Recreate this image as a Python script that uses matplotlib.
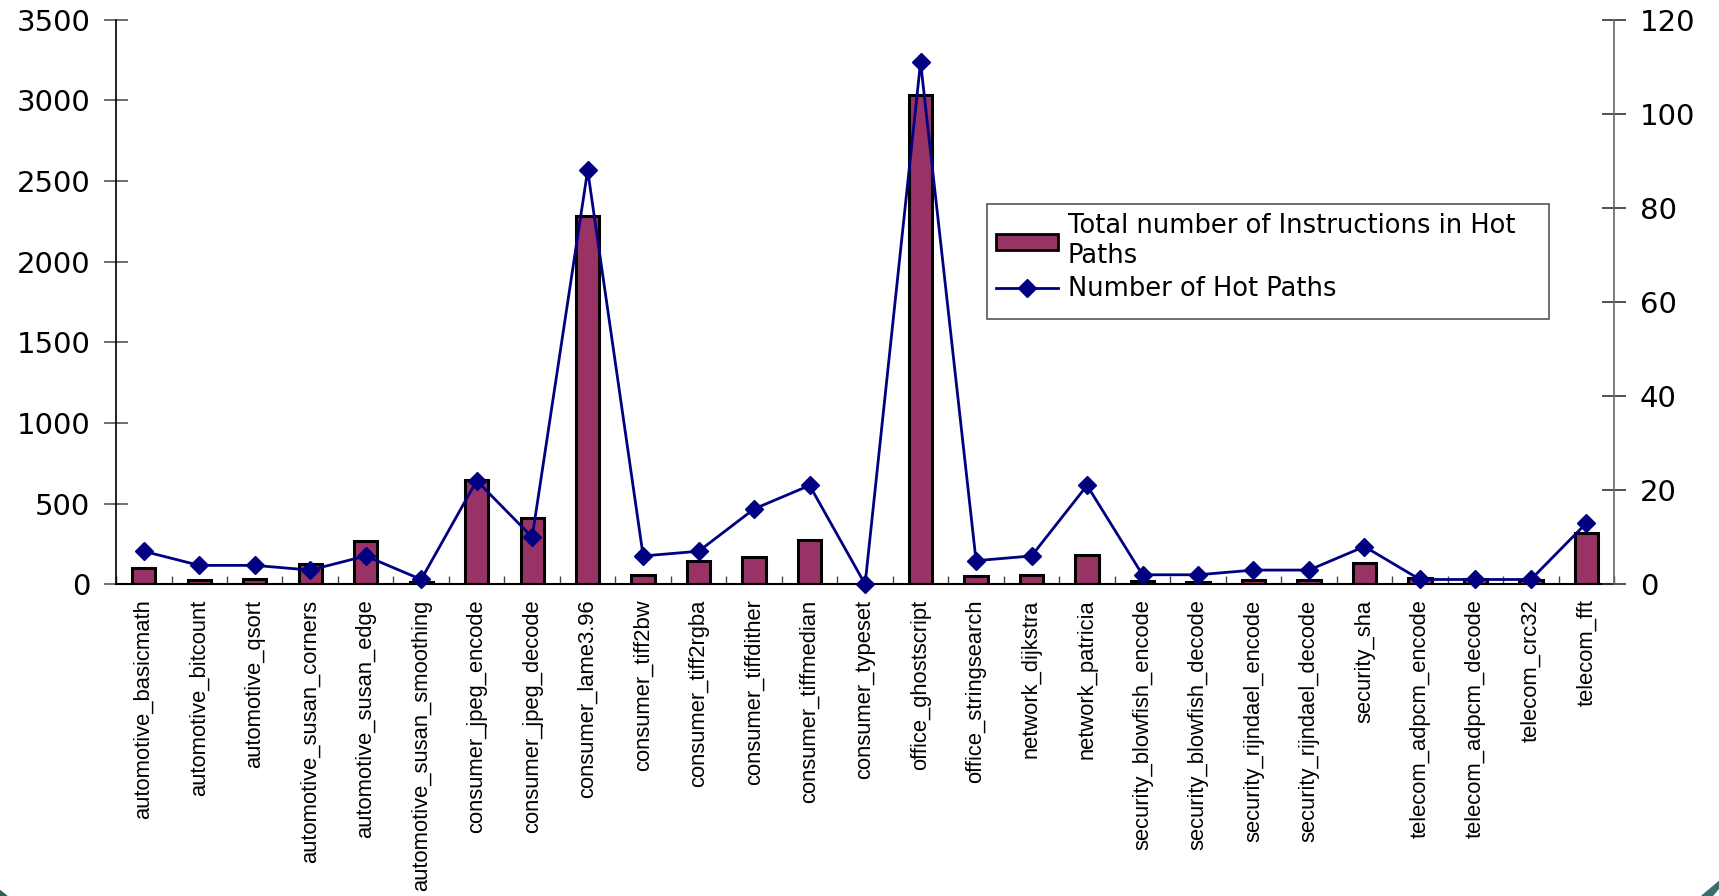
from matplotlib import pyplot as plt;
from matplotlib.patches import Rectangle, Polygon;
from matplotlib.lines import Line2D;
import numpy as np;

benchmarks = ["automotive_basicmath", "automotive_bitcount", "automotive_qsort",
              "automotive_susan_corners", "automotive_susan_edge", "automotive_susan_smoothing",
              "consumer_jpeg_encode", "consumer_jpeg_decode", "consumer_lame3.96",
              "consumer_tiff2bw", "consumer_tiff2rgba", "consumer_tiffdither",
              "consumer_tiffmedian", "consumer_typeset", "office_ghostscript",
              "office_stringsearch", "network_dijkstra", "network_patricia",
              "security_blowfish_encode", "security_blowfish_decode", "security_rijndael_encode",
              "security_rijndael_decode", "security_sha", "telecom_adpcm_encode",
              "telecom_adpcm_decode", "telecom_crc32", "telecom_fft"];
instructions = [100, 25, 30, 125, 265, 15, 648, 410, 2282, 60, 142, 168, 275, 0, 3035,
                50, 60, 182, 18, 15, 25, 25, 134, 40, 33, 23, 320];
hot_paths = [7, 4, 4, 3, 6, 1, 22, 10, 88, 6, 7, 16, 21, 0, 111,
             5, 6, 21, 2, 2, 3, 3, 8, 1, 1, 1, 13];
left_ticks = [0, 500, 1000, 1500, 2000, 2500, 3000, 3500];
right_ticks = [0, 20, 40, 60, 80, 100, 120];

bar_color = "#993366";
line_color = "#000080";

fig = plt.figure(figsize = (17.19, 8.96), dpi = 100);
ax = fig.add_axes([0.0675, 0.348, 0.8715, 0.63]);
x = np.arange(len(benchmarks));

ax.bar(x, instructions, width = 0.42, color = bar_color, edgecolor = "black", linewidth = 2.2, zorder = 2);
ax.set_xlim(-0.5, len(benchmarks) - 0.5);
ax.set_ylim(0, 3500);
ax.set_yticks(left_ticks);
ax.set_yticklabels([str(t) for t in left_ticks], fontsize = 21, family = "DejaVu Sans");
ax.tick_params(axis = "y", direction = "inout", length = 17, width = 1.2, color = "#555555", pad = 10);

ax.set_xticks(x);
ax.set_xticklabels(benchmarks, rotation = 90, fontsize = 15.8, family = ["Liberation Sans", "DejaVu Sans"], va = "top");
ax.tick_params(axis = "x", length = 0, pad = 11);
ax.set_xticks(np.arange(len(benchmarks) + 1) - 0.5, minor = True);
ax.tick_params(axis = "x", which = "minor", direction = "in", length = 6, width = 1, color = "#444444");

ax.spines["top"].set_visible(False);
ax.spines["right"].set_visible(False);
ax.spines["left"].set_linewidth(1.2);
ax.spines["bottom"].set_linewidth(1.5);

ax2 = ax.twinx();
ax2.plot(x, hot_paths, color = line_color, linewidth = 2.0, marker = "D", markersize = 9, clip_on = False, zorder = 3);
ax2.set_ylim(0, 120);
ax2.set_yticks(right_ticks);
ax2.set_yticklabels([str(t) for t in right_ticks], fontsize = 21, family = "DejaVu Sans");
ax2.tick_params(axis = "y", direction = "inout", length = 17, width = 1.2, color = "#333333", pad = 10);
ax2.spines["top"].set_visible(False);
ax2.spines["left"].set_visible(False);
ax2.spines["bottom"].set_visible(False);
ax2.spines["right"].set_color("#666666");
ax2.spines["right"].set_linewidth(1.2);

# legend box drawn by hand so it keeps the empty space at the bottom
leg_box = (0.5814, 0.470, 0.3752, 0.204);
ax2.add_patch(Rectangle(leg_box[:2], leg_box[2], leg_box[3], transform = ax2.transAxes,
                        facecolor = "white", edgecolor = "#555555", linewidth = 1.2, zorder = 4, clip_on = False));
handles = [Rectangle((0, 0), 1, 1, facecolor = bar_color, edgecolor = "black", linewidth = 2),
           Line2D([], [], color = line_color, linewidth = 2, marker = "D", markersize = 9)];
labels = ["Total number of Instructions in Hot\nPaths", "Number of Hot Paths"];
leg = ax2.legend(handles, labels, loc = "upper left", bbox_to_anchor = leg_box,
                 mode = "expand", frameon = False,
                 handlelength = 2.4, handleheight = 0.6, handletextpad = 0.4, borderpad = 0.35,
                 borderaxespad = 0, labelspacing = 0.3,
                 prop = {"family": "DejaVu Sans", "size": 18.5});
leg.set_zorder(5);

# little bits of the slide background in the corners
fig.patches.append(Polygon([[0.0, 0.0], [0.004, 0.0], [0.0, 0.006]], closed = True,
                           transform = fig.transFigure, color = "#2f5f5f"));
fig.patches.append(Polygon([[0.990, 0.0], [0.996, 0.0], [1.0, 0.009], [1.0, 0.016]], closed = True,
                           transform = fig.transFigure, color = "#3a6e6a"));

fig.savefig("out.png", dpi = 100);
plt.close();
